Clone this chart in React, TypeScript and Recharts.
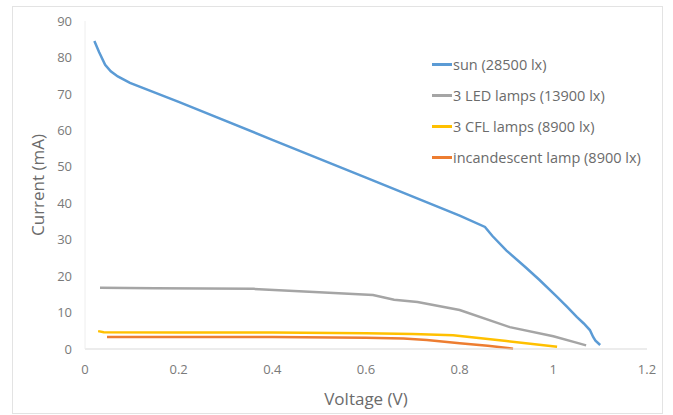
import { LineChart, Line, XAxis, YAxis } from 'recharts';

// voltage (V) / current (mA)
const sunV = [0.02, 0.03, 0.043, 0.055, 0.07, 0.096, 0.2, 0.4, 0.6, 0.8, 0.854, 0.87, 0.9, 0.94, 0.97, 1.008, 1.03, 1.05, 1.065, 1.078, 1.085, 1.09, 1.1];
const sunI = [84.5, 81.5, 78, 76.2, 74.8, 73, 67.8, 57.4, 47, 36.6, 33.5, 31, 27, 22.5, 19, 14.3, 11.5, 8.8, 7, 5.2, 3.3, 2.3, 1.1];

const ledV = [0.032, 0.15, 0.36, 0.5, 0.615, 0.66, 0.71, 0.8, 0.907, 1.0, 1.053, 1.07];
const ledI = [16.8, 16.7, 16.5, 15.6, 14.8, 13.5, 12.9, 10.7, 6, 3.5, 1.6, 1.0];

const cflV = [0.028, 0.04, 0.2, 0.4, 0.6, 0.7, 0.786, 0.9, 1.008];
const cflI = [4.9, 4.6, 4.5, 4.5, 4.3, 4.1, 3.8, 2.2, 0.6];

const incV = [0.047, 0.2, 0.4, 0.6, 0.68, 0.73, 0.8, 0.86, 0.914];
const incI = [3.3, 3.3, 3.3, 3.1, 2.9, 2.5, 1.6, 0.9, 0.1];

const xTicks = [0, 0.2, 0.4, 0.6, 0.8, 1, 1.2];
const yTicks = [0, 10, 20, 30, 40, 50, 60, 70, 80, 90];

const toPoints = (v: number[], c: number[]) => v.map((x, i) => ({ v: x, i: c[i] }));

const series = [
  { name: 'sun (28500 lx)', color: '#5B9BD5', data: toPoints(sunV, sunI) },
  { name: '3 LED lamps (13900 lx)', color: '#A5A5A5', data: toPoints(ledV, ledI) },
  { name: '3 CFL lamps (8900 lx)', color: '#FFC000', data: toPoints(cflV, cflI) },
  { name: 'incandescent lamp (8900 lx)', color: '#ED7D31', data: toPoints(incV, incI) },
];

const font = '"Open Sans", "Liberation Sans", sans-serif';

function LegendBox() {
  return (
    <div style={{ position: 'absolute', left: 432, top: 49, fontFamily: font, fontSize: 14.5, color: '#6b6b6b' }}>
      {series.map((s) => (
        <div key={s.name} style={{ display: 'flex', alignItems: 'center', height: 31 }}>
          <div style={{ width: 20, height: 2.5, background: s.color, marginRight: 1 }} />
          <span>{s.name}</span>
        </div>
      ))}
    </div>
  );
}

export default function App() {
  return (
    <div style={{ position: 'fixed', left: 0, top: 0, width: 673, height: 415, background: '#fff' }}>
      <div style={{ position: 'absolute', left: 12, top: 6, width: 649, height: 406, border: '1px solid #e3e3e3' }} />
      <LineChart width={673} height={415} margin={{ top: 21, right: 26, bottom: 0, left: 25 }}>
        <XAxis
          type="number"
          dataKey="v"
          domain={[0, 1.2]}
          ticks={xTicks}
          height={66}
          tickLine={false}
          tickMargin={10}
          axisLine={{ stroke: '#d9d9d9' }}
          tick={{ fill: '#7a7a7a', fontSize: 13, fontFamily: font }}
          label={{ value: 'Voltage (V)', position: 'insideBottom', offset: 10, fill: '#6b6b6b', fontSize: 17, fontFamily: font }}
        />
        <YAxis
          type="number"
          domain={[0, 90]}
          ticks={yTicks}
          width={60}
          tickLine={false}
          tickMargin={7}
          axisLine={{ stroke: '#eeeeee' }}
          tick={{ fill: '#7a7a7a', fontSize: 13, fontFamily: font }}
          label={{ value: 'Current  (mA)', angle: -90, position: 'center', dx: -17, fill: '#6b6b6b', fontSize: 17, fontFamily: font }}
        />
        {series.map((s) => (
          <Line
            key={s.name}
            data={s.data}
            dataKey="i"
            name={s.name}
            type="linear"
            stroke={s.color}
            strokeWidth={2.5}
            dot={false}
            isAnimationActive={false}
          />
        ))}
      </LineChart>
      <LegendBox />
    </div>
  );
}
